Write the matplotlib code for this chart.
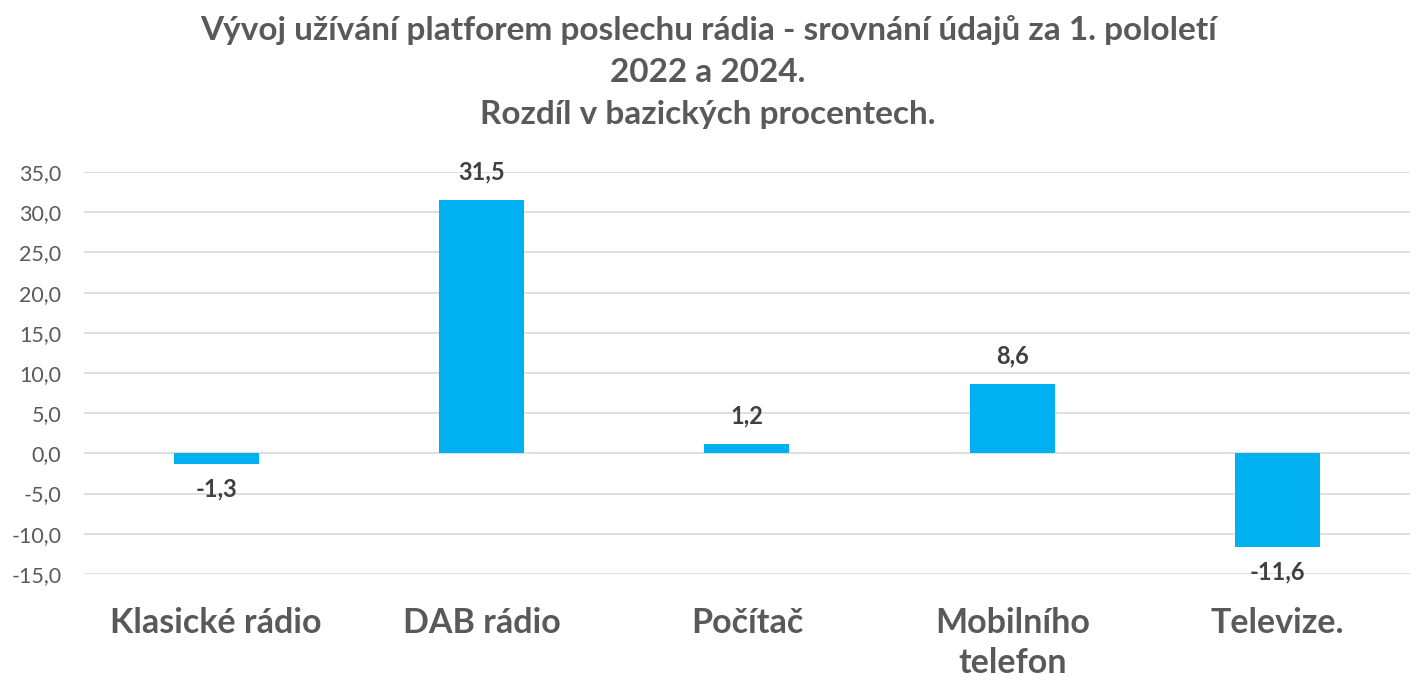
import matplotlib
matplotlib.use("Agg")
import matplotlib.pyplot as plt

plt.rcParams['font.family'] = ['Lato', 'DejaVu Sans']

# data
kategorie = ["Klasické rádio", "DAB rádio", "Počítač", "Mobilního\ntelefon", "Televize."]
rozdil = [-1.3, 31.5, 1.2, 8.6, -11.6]
yticks = [-15, -10, -5, 0, 5, 10, 15, 20, 25, 30, 35]

fig = plt.figure(figsize=(14.16, 6.8), dpi=100)
ax = fig.add_axes([0.059, 0.156, 0.937, 0.591])

x = list(range(len(kategorie)))
bars = ax.bar(x, rozdil, width=0.32, color="#00B0F0", zorder=3)

# popisky hodnot
for xi, v in zip(x, rozdil):
    txt = f"{v:.1f}".replace(".", ",")
    if v >= 0:
        ax.annotate(txt, (xi, v), xytext=(0, 12), textcoords="offset points",
                    ha="center", va="bottom", fontsize=17, fontweight="bold", color="#404040")
    else:
        ax.annotate(txt, (xi, v), xytext=(0, -10), textcoords="offset points",
                    ha="center", va="top", fontsize=17, fontweight="bold", color="#404040")

ax.set_xlim(-0.5, len(kategorie) - 0.5)
ax.set_ylim(-15, 35)
ax.set_yticks(yticks)
ax.set_yticklabels([f"{t:.1f}".replace(".", ",") for t in yticks], fontsize=15.5, color="#595959")
ax.set_xticks(x)
ax.set_xticklabels(kategorie, fontsize=24.5, fontweight="bold", color="#595959", linespacing=1.3)
ax.tick_params(axis="both", length=0)
ax.tick_params(axis="x", pad=24)
ax.tick_params(axis="y", pad=16)
for lab in ax.get_xticklabels():
    lab.set_va("top")

ax.grid(axis="y", color="#D9D9D9", linewidth=1.2, zorder=0)
for s in ax.spines.values():
    s.set_visible(False)

fig.suptitle("Vývoj užívání platforem poslechu rádia - srovnání údajů za 1. pololetí\n2022 a 2024.\nRozdíl v bazických procentech.",
             x=0.5, y=0.978, fontsize=24, fontweight="bold", color="#595959", linespacing=1.55)

fig.savefig("out.png", dpi=100)
